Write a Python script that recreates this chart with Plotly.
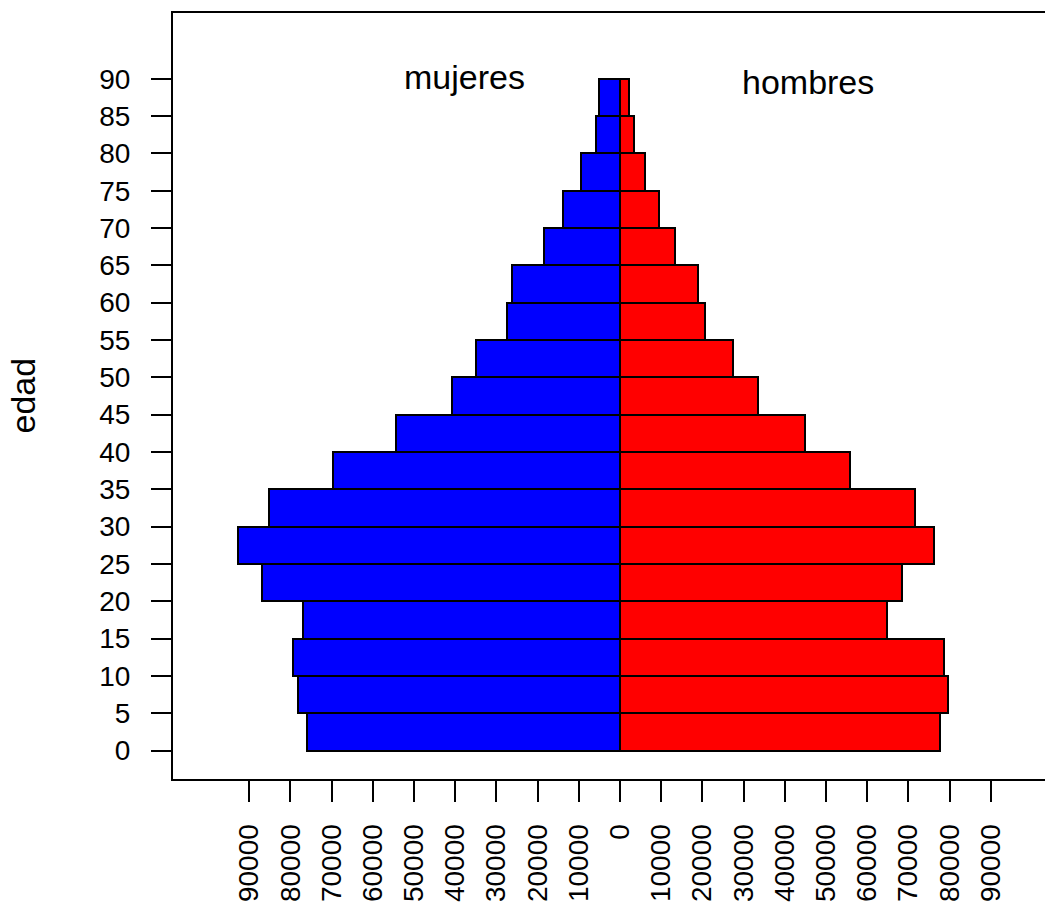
import plotly.graph_objects as go

# Age groups (lower bound of each 5-year class)
ages = [0, 5, 10, 15, 20, 25, 30, 35, 40, 45, 50, 55, 60, 65, 70, 75, 80, 85]
# Population values
mujeres = [76000, 78200, 79400, 76900, 86800, 92700, 85300, 69700, 54400,
           40900, 35000, 27500, 26200, 18500, 13900, 9500, 5900, 5000]
hombres = [77700, 79600, 78700, 64900, 68400, 76100, 71500, 55800, 44800,
           33600, 27400, 20600, 18900, 13400, 9400, 6100, 3400, 2300]

x_ticks = list(range(-90000, 90001, 10000))
x_ticktext = [str(abs(v)) for v in x_ticks]
y_ticks = list(range(0, 91, 5))

FONT = "Liberation Sans, Arial, Helvetica, sans-serif"

fig = go.Figure()
fig.add_trace(go.Bar(
    y=ages, x=[-v for v in mujeres], orientation="h", width=5, offset=0,
    marker=dict(color="#0000FF", line=dict(color="black", width=2)),
    name="mujeres", showlegend=False,
))
fig.add_trace(go.Bar(
    y=ages, x=hombres, orientation="h", width=5, offset=0,
    marker=dict(color="#FF0000", line=dict(color="black", width=2)),
    name="hombres", showlegend=False,
))

fig.add_annotation(x=-37800, y=90.2, text="mujeres", showarrow=False,
                   font=dict(family=FONT, size=34, color="black"),
                   xanchor="center", yanchor="middle")
fig.add_annotation(x=45600, y=89.5, text="hombres", showarrow=False,
                   font=dict(family=FONT, size=34, color="black"),
                   xanchor="center", yanchor="middle")
fig.add_annotation(xref="paper", yref="paper", x=-0.171, y=0.5, text="edad",
                   textangle=-90, showarrow=False,
                   font=dict(family=FONT, size=34, color="black"),
                   xanchor="center", yanchor="middle")

fig.update_layout(
    width=1045, height=897,
    margin=dict(l=165, r=0, t=5, b=126),
    paper_bgcolor="white", plot_bgcolor="white",
    barmode="overlay", bargap=0,
    font=dict(family=FONT, size=28, color="black"),
)
fig.update_xaxes(
    range=[-108500, 105100], tickmode="array", tickvals=x_ticks,
    ticktext=x_ticktext, tickangle=-90, ticks="outside", ticklen=21,
    tickwidth=2, tickcolor="black", showline=True, linecolor="black",
    linewidth=2, mirror=True, showgrid=False, zeroline=False,
    ticklabelstandoff=11, tickfont=dict(family=FONT, size=28, color="black"),
)
fig.update_yaxes(
    range=[-3.8, 98.8], tickmode="array", tickvals=y_ticks,
    ticks="outside", ticklen=20, tickwidth=2, tickcolor="black",
    showline=True, linecolor="black", linewidth=2, mirror=False,
    showgrid=False, zeroline=False, ticklabelstandoff=15,
    tickfont=dict(family=FONT, size=28, color="black"),
)

fig.write_html("out.html")
